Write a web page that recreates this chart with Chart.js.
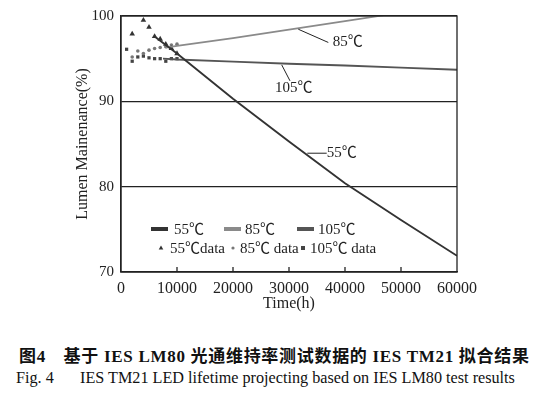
<!DOCTYPE html>
<html>
<head>
<meta charset="utf-8">
<script src="https://cdn.jsdelivr.net/npm/chart.js@4"></script>
<style>
  html, body { margin: 0; padding: 0; background: #fff; }
  #wrap { position: relative; width: 554px; height: 411px; }
  #box { position: absolute; left: 0; top: 0; width: 554px; height: 320px; }
  .cap { position: absolute; white-space: pre; color: #111; }
  #capZh { top: 342px; left: 19px; font: bold 17px "Liberation Serif", "Noto Sans CJK SC", serif; letter-spacing: 0.7px; }
  #capEn1 { top: 369px; left: 16px; font: 16.2px "Liberation Serif", serif; }
  #capEn2 { top: 369px; left: 80px; font: 16.2px "Liberation Serif", serif; }
</style>
</head>
<body>
<div id="wrap">
  <div id="box"><canvas id="lumenChart"></canvas></div>
  <div class="cap" id="capZh">图4　基于 IES LM80 光通维持率测试数据的 IES TM21 拟合结果</div>
  <div class="cap" id="capEn1">Fig. 4</div>
  <div class="cap" id="capEn2">IES TM21 LED lifetime projecting based on IES LM80 test results</div>
</div>
<script>
// fitted curves (TM21 projection)
const fitTime55 = [6000, 10000, 20000, 30000, 40000, 50000, 60000];
const fit55 = [97.6, 95.6, 90.3, 85.3, 80.4, 76.1, 71.9];
const fitTime85 = [8000, 10000, 20000, 30000, 40000, 50000, 60000];
const fit85 = [96.3, 96.5, 97.4, 98.4, 99.4, 100.4, 101.4];
const fitTime105 = [7500, 10000, 20000, 30000, 40000, 50000, 60000];
const fit105 = [95.0, 94.9, 94.65, 94.4, 94.2, 93.95, 93.7];

// LM80 measured points
const dataTime55 = [2000, 4000, 5000, 6000, 7000, 8000, 9000, 10000];
const data55 = [97.9, 99.5, 98.7, 97.6, 97.3, 96.7, 96.2, 95.6];
const dataTime85 = [2000, 3000, 4000, 5000, 6000, 7000, 8000, 9000, 10000];
const data85 = [95.2, 95.9, 95.6, 96.0, 96.2, 96.3, 96.4, 96.6, 96.7];
const dataTime105 = [1000, 2000, 3000, 4000, 5000, 6000, 7000, 8000, 9000, 10000];
const data105 = [96.1, 94.7, 95.2, 95.3, 95.1, 95.0, 95.0, 94.7, 95.0, 95.0];

const xTicks = [0, 10000, 20000, 30000, 40000, 50000, 60000];
const yTicks = [70, 80, 90, 100];

// curve labels with leader lines, in data units
const curveNotes = [
  { text: "85℃", from: [31660, 98.45], to: [37020, 96.9], at: [37800, 96.9] },
  { text: "105℃", from: [28700, 94.27], to: [30180, 92.4], at: [27500, 91.55] },
  { text: "55℃", from: [33270, 83.92], to: [36730, 83.92], at: [36730, 83.92] },
];

const pts = (ts, vs) => ts.map((t, i) => ({ x: t, y: vs[i] }));
const serif = '"Liberation Serif", "Noto Sans CJK SC", serif';

const datasets = [
  { label: "55℃", data: pts(fitTime55, fit55), showLine: true, borderColor: "#333", borderWidth: 1.9, pointRadius: 0 },
  { label: "85℃", data: pts(fitTime85, fit85), showLine: true, borderColor: "#8a8a8a", borderWidth: 1.7, pointRadius: 0 },
  { label: "105℃", data: pts(fitTime105, fit105), showLine: true, borderColor: "#555", borderWidth: 1.9, pointRadius: 0 },
  { label: "55℃data", data: pts(dataTime55, data55), pointStyle: "triangle", pointRadius: 3.2, backgroundColor: "#333", borderColor: "#333", borderWidth: 0 },
  { label: "85℃ data", data: pts(dataTime85, data85), pointStyle: "circle", pointRadius: 1.8, backgroundColor: "#777", borderColor: "#777", borderWidth: 0 },
  { label: "105℃ data", data: pts(dataTime105, data105), pointStyle: "rect", pointRadius: 2.3, backgroundColor: "#444", borderColor: "#444", borderWidth: 0 },
];

const framePlugin = {
  id: "frame",
  afterDraw(chart) {
    const { ctx, chartArea: a, scales } = chart;
    ctx.save();
    ctx.strokeStyle = "#222";
    ctx.lineWidth = 1.3;
    ctx.strokeRect(a.left, a.top, a.right - a.left, a.bottom - a.top);
    // inward tick marks on the time axis
    xTicks.slice(1, -1).forEach((t) => {
      const x = scales.x.getPixelForValue(t);
      ctx.beginPath();
      ctx.moveTo(x, a.bottom);
      ctx.lineTo(x, a.bottom - 5);
      ctx.stroke();
    });

    // curve notes
    ctx.font = "15px " + serif;
    ctx.fillStyle = "#222";
    ctx.textBaseline = "middle";
    ctx.lineWidth = 1;
    curveNotes.forEach((n) => {
      ctx.beginPath();
      ctx.moveTo(scales.x.getPixelForValue(n.from[0]), scales.y.getPixelForValue(n.from[1]));
      ctx.lineTo(scales.x.getPixelForValue(n.to[0]), scales.y.getPixelForValue(n.to[1]));
      ctx.stroke();
      ctx.fillText(n.text, scales.x.getPixelForValue(n.at[0]), scales.y.getPixelForValue(n.at[1]));
    });

    // legend inside the plot
    const rows = [
      { y: a.bottom - 43, items: [[30, 53], [103, 124], [176, 197]] },
      { y: a.bottom - 24, items: [[40, 49], [112, 119], [182, 189]] },
    ];
    rows.forEach((row, r) => {
      row.items.forEach((it, i) => {
        const ds = chart.data.datasets[r * 3 + i];
        if (r === 0) {
          ctx.strokeStyle = ds.borderColor;
          ctx.lineWidth = 4;
          ctx.beginPath();
          ctx.moveTo(a.left + it[0], row.y);
          ctx.lineTo(a.left + it[0] + 17, row.y);
          ctx.stroke();
        } else {
          ctx.fillStyle = ds.backgroundColor;
          const cx = a.left + it[0], cy = row.y;
          ctx.beginPath();
          if (ds.pointStyle === "triangle") {
            ctx.moveTo(cx, cy - 2.5); ctx.lineTo(cx + 2.3, cy + 1.6); ctx.lineTo(cx - 2.3, cy + 1.6);
          } else if (ds.pointStyle === "rect") {
            ctx.rect(cx - 2, cy - 2, 4, 4);
          } else {
            ctx.arc(cx, cy, 1.6, 0, Math.PI * 2);
          }
          ctx.fill();
        }
        ctx.fillStyle = "#222";
        ctx.fillText(ds.label, a.left + it[1], row.y + 1);
      });
    });
    ctx.restore();
  },
};

new Chart(document.getElementById("lumenChart"), {
  type: "scatter",
  data: { datasets },
  plugins: [framePlugin],
  options: {
    responsive: true,
    maintainAspectRatio: false,
    animation: false,
    layout: { padding: { top: 14, right: 97, left: 0, bottom: 0 } },
    plugins: { legend: { display: false }, tooltip: { enabled: false } },
    scales: {
      x: {
        type: "linear",
        min: 0,
        max: 60000,
        afterBuildTicks: (s) => { s.ticks = xTicks.map((v) => ({ value: v })); },
        afterFit: (s) => { s.height = 48; },
        grid: { display: false, drawTicks: false },
        border: { display: true, color: "#222", width: 1.3 },
        ticks: { color: "#222", padding: 7, maxRotation: 0, font: { family: serif, size: 16 }, callback: (v) => String(v) },
        title: { display: true, text: "Time(h)", color: "#222", padding: { top: 0, bottom: 7 }, font: { family: serif, size: 16 } },
      },
      y: {
        min: 70,
        max: 100,
        afterBuildTicks: (s) => { s.ticks = yTicks.map((v) => ({ value: v })); },
        afterFit: (s) => { s.width = 121; },
        grid: { color: "#222", lineWidth: 1.3, drawTicks: false },
        border: { display: true, color: "#222", width: 1.3 },
        ticks: { color: "#222", padding: 7, font: { family: serif, size: 15 } },
        title: { display: true, text: "Lumen Mainenance(%)", color: "#222", padding: { top: 73, bottom: 0 }, font: { family: serif, size: 16 } },
      },
    },
  },
});
</script>
</body>
</html>
